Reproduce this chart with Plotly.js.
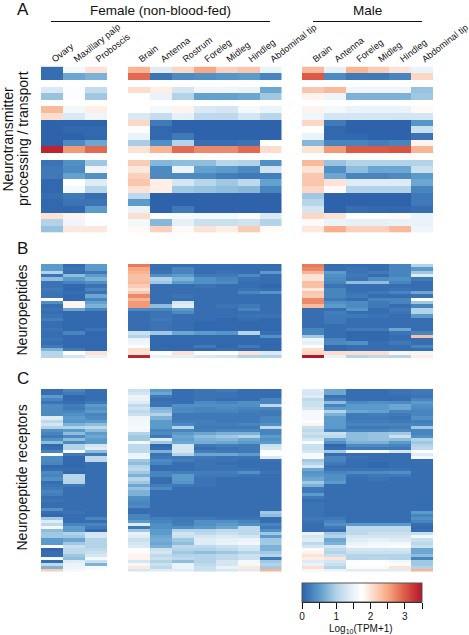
<!DOCTYPE html>
<html><head><meta charset="utf-8">
<script src="https://cdn.plot.ly/plotly-3.0.1.min.js"></script>
<style>html,body{margin:0;padding:0;background:#fff}#c{width:469px;height:635px}</style>
</head><body><div id="c"></div>
<script>
var labelsF1=["Ovary","Maxillary palp","Proboscis"];
var labelsF2=["Brain","Antenna","Rostrum","Foreleg","Midleg","Hindleg","Abdominal tip"];
var labelsM=["Brain","Antenna","Foreleg","Midleg","Hindleg","Abdominal tip"];
var barTicks=[0,.5,1,1.5,2,2.5,3,3.5];
var barLabels=[0,1,2,3];

// Panel A, row by row (null rows are the gaps between gene groups)
var A_F1=[[.1,1.6,2.0],[.1,.6,.7],[null,null,null],[1.35,1.7,1.15],[.85,1.7,.9],[null,null,null],
[2.35,1.6,1.9],[2.05,1.35,1.55],[0,0,0],[0,.05,.05],[0,0,.05],[0,.35,.6],[3.4,2.6,2.9],[null,null,null],
[.15,.4,.9],[.2,.35,1.55],[.2,.55,.4],[.05,1.75,1.4],[.05,1.6,1.05],[.1,.2,.1],[.05,.15,.15],[.05,.05,.5],
[2.0,1.85,1.75],[1.0,1.55,1.7],[.85,1.95,1.95]];
var A_F2=[[2.4,1.4,2.1,2.5,2.15,2.25,1.5],[2.9,.15,.35,.4,.45,.5,.3],[null,null,null,null,null,null,null],
[2.05,1.9,1.3,1.55,1.55,1.5,.6],[1.75,1.5,1.0,.55,.55,.6,.9],[null,null,null,null,null,null,null],
[1.75,1.6,1.85,1.35,1.3,1.6,1.5],[1.35,1.15,1.45,1.1,1.1,1.3,1.05],[2.1,.2,0,0,0,0,0],[1.7,.05,0,0,0,0,0],
[1.5,.05,.2,0,0,0,0],[.95,.4,1.0,.1,.1,.15,1.75],[2.0,2.4,2.9,2.7,2.7,2.9,2.05],[null,null,null,null,null,null,null],
[2.2,.75,.8,.8,1.05,1.0,.4],[1.95,.35,1.5,.55,.5,.35,1.25],[2.15,.35,.35,.35,.25,.2,.25],[2.25,1.9,1.3,1.05,.9,1.1,.55],
[2.0,1.9,.9,.85,.8,.75,.3],[1.1,0,0,0,0,0,0],[.5,0,0,0,0,0,0],[1.5,0,.2,0,0,0,0],
[2.05,1.7,1.65,1.6,1.6,1.7,1.35],[1.6,.75,1.45,1.2,1.2,1.25,1.0],[1.8,2.15,1.8,2.0,1.9,2.2,1.8]];
var A_M=[[2.35,1.45,2.4,2.2,2.0,1.5],[3.0,.35,.2,.2,.3,2.1],[null,null,null,null,null,null],
[2.25,2.35,1.55,1.55,1.55,.85],[1.85,1.55,.7,.7,.7,.9],[null,null,null,null,null,null],
[1.85,1.6,1.5,1.5,1.5,1.8],[1.55,1.3,1.3,1.3,1.3,1.3],[2.1,.2,0,0,0,.45],[1.75,.05,0,0,0,1.2],
[1.5,.05,.05,0,0,.15],[.75,.3,.3,.25,.3,1.85],[2.0,2.6,3.0,3.0,3.05,2.4],[null,null,null,null,null,null],
[2.35,.85,1.0,1.0,1.0,1.0],[2.0,.4,.8,.6,.6,1.2],[2.25,.6,.3,.3,.35,.5],[2.25,2.0,1.4,1.4,1.4,.6],
[2.1,1.8,1.0,1.0,1.0,.3],[.9,0,0,0,0,.2],[1.05,0,0,0,0,.2],[1.3,0,.1,.05,.05,.1],
[2.1,2.0,1.75,1.75,1.8,1.5],[1.8,1.5,1.45,1.45,1.5,1.5],[1.95,2.45,2.15,2.15,2.35,1.55]];

// Panel B, column by column (28 rows)
var B_ovary=[.5,.5,1.0,.15,.8,.15,.15,.2,.15,.15, 1.75,.4,.1,.15,.1,.15,.25,.1,.1,.15, .1,.1,.15,.1,.2,.7,1.05,1.05];
var B_palp=[.1,.15,.1,.8,.5,.3,.05,.05,.1,.05, .05,1.85,1.85,.6,.05,.05,.05,.05,.05,.05, .3,.05,.05,.05,.05,.2,1.75,1.3];
var B_prob=[.5,.5,.2,.5,.7,.4,.15,.3,.15,.6, .3,.55,.7,.3,.05,.05,.05,.05,.05,.15, .05,.05,.05,.05,.05,.05,2.0,1.5];
var B_Fbrain=[2.8,2.5,2.4,2.3,2.3,2.35,2.2,2.0,2.25,2.7, 2.4,2.6,2.6,.35,.1,.1,.1,.1,.1,.1, 1.2,1.0,1.5,1.55,1.7,2.05,2.0,3.4];
var B_Fant=[.1,.1,.15,.4,1.0,.9,.1,.1,.1,.1, .1,.1,.8,.3,.15,.15,.2,.15,.15,.15, .9,.05,.05,.05,.05,.05,1.75,1.5];
var B_Frost=[.1,.3,.3,.5,.7,.5,.1,.1,.1,.15, .1,1.3,1.4,.5,.35,.1,.1,.1,.1,.1, .6,.05,.05,.05,.05,.05,2.0,1.45];
var B_Ffore=[.1,.1,.1,.2,.4,.4,.15,.1,.1,.1, .1,.1,.1,.1,.1,.1,.1,.05,.05,.05, .5,.05,.05,.05,.2,.05,1.7,1.35];
var B_Fmid=[.1,.1,.15,.2,.3,.35,.1,.1,.1,.1, .1,.1,.15,.1,.1,.1,.05,.05,.05,.05, .45,.05,.05,.05,.05,.1,1.7,1.3];
var B_Fhind=[.1,.1,.1,.35,.15,.1,.1,.15,.3,.1, .1,.1,.2,.3,.1,.15,.1,.05,.05,.05, 1.0,.05,.05,.05,.2,.05,2.0,1.0];
var B_Ftip=[.1,.1,.5,.1,.1,.1,.05,.1,.45,.1, .1,.1,.1,.1,.1,.15,.05,.05,.05,.05, .1,.4,.05,.05,.05,.05,1.35,1.0];
var B_Mbrain=[2.8,2.7,2.4,2.0,2.0,2.3,2.3,1.95,2.25,2.2, 2.7,2.7,2.35,.1,.1,.1,.1,.1,.1,.3, .3,.9,1.55,1.45,1.7,2.05,2.1,3.5];
var B_Mant=[.1,.1,.5,.4,.35,.3,.15,.3,.3,.3, .2,.4,.5,.1,.25,.2,.2,.2,.1,.1, .1,.1,.3,.35,.05,.05,2.05,1.5];
var B_Mfore=[.1,.15,.15,.2,.15,.8,.1,.1,.15,.2, .1,.35,.35,.45,.1,.2,.1,.1,.1,.2, .05,.05,.05,.4,.1,.1,2.05,1.0];
var B_Mmid=[.1,.1,.2,.1,.35,.8,.1,.1,.2,.1, .3,.2,.2,.1,.1,.15,.1,.1,.1,.2, .05,.05,.05,.1,.1,.1,2.05,1.1];
var B_Mhind=[.3,.3,.3,.3,.4,.3,.1,.15,.3,.1, .3,.3,.1,.2,.15,.1,.1,.1,.1,.6, .15,.1,.1,.2,.1,.1,1.85,1.05];
var B_Mtip=[1.0,.5,.9,1.4,.2,.1,.1,.1,.6,.15, 1.75,.9,.3,1.0,1.0,.5,.1,.1,.1,.1, .3,2.3,.1,.1,.3,.1,1.6,1.9];

// Panel C, column by column (60 rows)
var C_ovary=[.1,.1,.5,.3,.15,.35,.35,.35,.35,1.4, 1.1,1.3,1.0,.4,.3,.2,.4,.8,.05,.1, .3,1.75,.35,.35,.3,.05,.1,.35,.3,.4, .1,.15,.2,.3,.25,.1,.15,.1,.1,.4, .1,.05,.9,1.4,1.1,1.6,.8,.9,.9,.5, .5,1.75,.05,.1,.1,1.6,.1,1.1,.7,2.2];
var C_palp=[.3,.2,.05,.05,.1,.25,.2,.3,.4,.5, .45,.7,1.0,.5,.8,.35,.8,.35,1.0,1.0, 1.65,.2,.05,.05,.05,.05,.1,.05,1.05,1.05, 1.0,.2,.1,.1,.1,.1,.1,.1,.1,.1, .15,.1,.1,.1,.3,.5,.5,1.0,.9,.6, .9,1.2,1.1,1.1,.9,.8,1.4,1.5,1.55,1.6];
var C_prob=[.1,.1,.1,.1,.2,.5,.4,.5,.3,.35, .5,.8,1.1,.8,.5,.6,.5,.5,1.3,1.4, .8,.2,1.1,1.1,.1,.1,.1,.1,.1,.1, .1,.1,.1,.1,.1,.1,.1,.1,.1,.1, .1,.1,.3,.1,.3,.2,.05,1.3,1.3,1.0, 1.0,1.0,1.1,1.2,1.3,1.6,1.2,.7,1.65,1.7];
var C_Fbrain=[1.2,1.3,1.5,1.5,1.4,1.1,1.25,1.1,1.2,1.55, 1.6,1.6,1.65,1.6,1.0,.9,.9,1.6,1.1,1.1, 1.1,1.5,1.55,.9,.8,1.0,1.1,.9,.7,1.05, .9,.6,.85,.7,.7,.4,.35,.3,.35,.1, .1,.3,.3,.5,1.4,.2,.9,1.5,1.4,1.2, 1.3,1.35,1.7,1.8,1.85,1.85,1.3,1.6,1.95,1.3];
var C_Fant=[.5,.6,.2,.1,.15,.15,.7,.8,1.0,.7, .5,.5,.5,.3,.35,.2,1.4,.9,.05,.1, .7,.15,.2,.35,.3,.1,.1,.3,.3,.1, .1,.25,.35,.1,.1,.1,.1,.1,.1,.1, .1,.1,.25,.3,.4,.4,.5,.5,.6,.65, .6,.7,1.2,1.3,1.1,1.2,1.0,1.2,1.1,1.4];
var C_Frost=[.1,.1,.1,.1,.1,.4,.35,.35,.2,.2, .25,.35,1.0,.3,.5,.6,.55,.6,1.3,1.3, 1.3,1.0,.2,.25,.1,.1,.1,.25,.5,.5, .45,.2,.1,.1,.1,.1,.1,.1,.1,.1, .1,.1,.2,.2,.25,.4,1.0,1.3,1.2,.9, .8,1.1,1.0,.9,1.0,1.1,.8,1.5,1.5,1.4];
var C_Ffore=[.15,.15,.15,.15,.35,.4,.3,.3,.2,.2, .25,.25,.2,.25,.6,.8,.7,.65,.2,.1, .25,.6,.2,.15,.15,.15,.15,.25,.2,.15, .15,.15,.1,.1,.1,.1,.1,.1,.1,.1, .1,.1,.2,.4,.4,.5,1.0,1.1,1.3,1.4, 1.4,1.1,1.0,.8,1.0,1.0,1.0,1.1,1.2,1.2];
var C_Fmid=[.2,.15,.15,.1,.3,.4,.35,.3,.2,.2, .2,.25,.2,.3,.7,.9,.75,.6,.25,.15, .2,.6,.15,.15,.1,.15,.15,.25,.2,.1, .1,.1,.1,.1,.1,.1,.1,.1,.1,.1, .1,.1,.15,.4,.5,.6,1.1,1.2,1.35,1.45, 1.5,1.2,1.1,.9,1.1,1.1,1.3,1.3,1.5,1.3];
var C_Fhind=[.1,.1,.1,.1,.4,.4,.3,.25,.2,.2, .2,.3,.2,.3,.7,1.0,.6,.5,.2,.2, .2,.5,.15,.1,.1,.1,.15,.4,.15,.1, .1,.1,.1,.1,.1,.1,.1,.1,.1,.1, .1,.1,.15,.3,.4,1.1,1.1,1.1,1.3,1.5, 1.6,1.3,1.25,1.0,1.2,1.2,1.6,1.6,1.95,1.4];
var C_Ftip=[.1,.1,.1,.3,.3,1.1,.3,.2,.2,.3, .3,.4,1.1,.3,.3,.5,.4,.5,1.2,1.3, 1.7,1.75,1.35,.15,.1,.1,.1,.15,.1,.1, .1,.1,.1,.1,.1,.1,.1,.1,.1,.1, .9,.8,.1,.1,.3,.2,.4,.9,.5,.9, .9,.7,.7,.9,1.0,.2,.9,1.0,.9,2.4];
var C_Mbrain=[1.35,1.3,1.4,1.1,1.2,1.2,1.3,1.65,1.65,1.65, 1.7,1.85,1.2,1.1,1.2,1.1,1.3,1.65,1.2,1.2, 1.3,1.65,1.65,.9,1.0,1.3,.6,.45,.5,.6, .9,.7,.2,.2,.5,.2,.1,.15,.15,.15, .15,.15,.2,.15,.1,.1,.1,1.5,1.3,1.4, 1.1,1.3,1.8,1.85,2.0,1.9,1.4,1.5,2.05,1.6];
var C_Mant=[.6,.6,.15,.25,.8,.3,.5,1.0,.7,.5, .5,.5,.5,.3,1.2,1.1,.6,.4,.05,.1, .9,.1,.3,.3,.2,.1,.15,.3,.4,.4, .5,.1,.1,.1,.1,.1,.1,.1,.1,.1, .1,.1,.2,.3,.4,.2,.1,.9,1.0,.6, .7,1.3,1.1,1.0,1.2,2.0,1.3,1.2,1.0,1.5];
var C_Mfore=[.1,.1,.1,.1,.35,.5,.5,.6,.2,.2, .25,.3,.2,.3,.8,.8,.8,.7,.35,.2, 1.65,.1,.15,.1,.1,.1,.15,.35,.15,.1, .1,.1,.1,.1,.1,.1,.1,.1,.1,.1, .1,.1,.1,.1,.5,1.1,1.1,1.1,1.3,1.4, 1.5,1.6,1.3,1.2,1.0,1.0,1.7,1.75,1.8,1.4];
var C_Mmid=[.1,.1,.1,.1,.4,.5,.5,.55,.25,.2, .25,.3,.2,.3,.85,.85,.85,.7,.35,.2, 1.65,.1,.1,.1,.05,.05,.15,.35,.2,.15, .1,.1,.1,.1,.1,.1,.1,.1,.1,.1, .1,.1,.1,.1,.5,1.1,1.1,1.2,1.3,1.45, 1.6,1.65,1.3,1.2,1.0,1.05,1.7,1.75,1.8,1.4];
var C_Mhind=[.15,.15,.1,.1,.35,.6,.6,.3,.2,.15, .2,.3,.25,.35,.9,1.2,.8,.5,.3,.2, 1.3,.1,.1,.1,.1,.1,.15,.4,.2,.1, .1,.1,.1,.1,.1,.1,.1,.1,.1,.1, .1,.1,.1,.1,.5,1.1,1.1,1.2,1.3,1.4, 1.6,1.7,1.3,1.2,1.0,1.0,1.6,1.7,2.0,1.4];
var C_Mtip=[.2,.2,.15,.3,.5,.4,.35,.3,.3,.4, .25,.3,.9,.3,.3,.4,1.0,.9,1.0,1.1, 1.75,1.4,1.6,.1,.1,.1,.1,.1,.1,.1, .1,.1,.1,.1,.1,.1,.1,.1,.1,.1, .5,.3,.4,.3,.1,.05,.1,1.2,1.6,1.2, 1.1,1.2,.6,.6,.8,.3,.9,.9,1.0,2.4];

var colorStops=[[0,'#2e62aa'],[0.143,'#5a9bcb'],[0.286,'#b3d3e8'],[0.43,'#ebf3f9'],[0.5,'#ffffff'],[0.571,'#fde3d6'],[0.714,'#f8a984'],[0.857,'#dc5a45'],[1,'#b2182b']];

var W=469,H=635;
function px(v){return v/W;}
function py(v){return 1-v/H;}
function rows(cols){return cols[0].map(function(_,i){return cols.map(function(c){return c[i];});});}

var groups=[
 {xa:'x',labels:labelsF1,left:41,right:107,A:A_F1,B:rows([B_ovary,B_palp,B_prob]),C:rows([C_ovary,C_palp,C_prob])},
 {xa:'x2',labels:labelsF2,left:128,right:281.5,A:A_F2,B:rows([B_Fbrain,B_Fant,B_Frost,B_Ffore,B_Fmid,B_Fhind,B_Ftip]),C:rows([C_Fbrain,C_Fant,C_Frost,C_Ffore,C_Fmid,C_Fhind,C_Ftip])},
 {xa:'x3',labels:labelsM,left:302,right:433,A:A_M,B:rows([B_Mbrain,B_Mant,B_Mfore,B_Mmid,B_Mhind,B_Mtip]),C:rows([C_Mbrain,C_Mant,C_Mfore,C_Mmid,C_Mhind,C_Mtip])}
];
var panels=[{key:'A',ya:'y',top:66.6,bot:232.5},{key:'B',ya:'y2',top:264,bot:358},{key:'C',ya:'y3',top:389,bot:571.5}];

var data=[];
var layout={width:W,height:H,margin:{l:0,r:0,t:0,b:0},paper_bgcolor:'#fff',plot_bgcolor:'rgba(0,0,0,0)',showlegend:false,
 font:{family:'Liberation Sans, Arial, sans-serif',color:'#111'},
 coloraxis:{cmin:0,cmax:3.5,colorscale:colorStops,colorbar:{
   orientation:'h',x:px(302),xanchor:'left',y:py(583),yanchor:'top',lenmode:'pixels',len:120,thicknessmode:'pixels',thickness:18.5,
   xpad:0,ypad:0,outlinecolor:'#555',outlinewidth:1,borderwidth:0,
   tickmode:'array',tickvals:barLabels,
   ticks:'outside',ticklen:6,tickwidth:1,tickcolor:'#111',tickfont:{size:10,color:'#111'}}},
 annotations:[],shapes:[]};

groups.forEach(function(g,i){
  var name='xaxis'+(i?i+1:'');
  layout[name]={domain:[px(g.left),px(g.right)],range:[-.5,g.labels.length-.5],side:'top',anchor:'y',
    tickmode:'array',tickvals:g.labels.map(function(_,k){return k;}),ticktext:g.labels,tickangle:-38,ticklabeloverflow:'allow',
    ticks:'',ticklen:0,showgrid:false,zeroline:false,showline:false,tickfont:{size:9.2,color:'#111'},automargin:false,fixedrange:true};
  panels.forEach(function(p){
    var z=g[p.key];
    data.push({type:'heatmap',z:z,x:g.labels.map(function(_,k){return k;}),y:z.map(function(_,k){return k;}),xaxis:g.xa,yaxis:p.ya,coloraxis:'coloraxis',hoverongaps:false});
  });
});
panels.forEach(function(p,i){
  var n=groups[0][p.key].length;
  layout['yaxis'+(i?i+1:'')]={domain:[py(p.bot),py(p.top)],range:[n-.5,-.5],anchor:'x',visible:false,showgrid:false,zeroline:false,fixedrange:true};
});

// half-unit ticks under the colour bar, on an empty axis with the same scale
data.push({type:'scatter',x:[],y:[],xaxis:'x4',yaxis:'y4',hoverinfo:'skip'});
layout.xaxis4={domain:[px(302),px(422)],range:[0,3.5],anchor:'y4',side:'bottom',tickmode:'array',tickvals:barTicks,showticklabels:false,
  ticks:'outside',ticklen:6,tickwidth:1,tickcolor:'#111',showline:true,linecolor:'#111',linewidth:1,showgrid:false,zeroline:false,fixedrange:true};
layout.yaxis4={domain:[py(601.5),py(583)],anchor:'x4',visible:false,showgrid:false,zeroline:false,fixedrange:true};

function note(text,x,y,size,rot){
  layout.annotations.push({text:text,xref:'paper',yref:'paper',x:px(x),y:py(y),xanchor:'center',yanchor:'middle',showarrow:false,textangle:rot||0,font:{size:size,color:'#111'}});
}
note('A',22.5,9,17);note('B',22.5,248,17);note('C',22.5,378,17);
note('Female (non-blood-fed)',160,10.5,13.5);
note('Male',367,10.5,13.5);
note('Neurotransmitter',7.5,139,14,-90);
note('processing / transport',23,139,14,-90);
note('Neuropeptides',21.5,310,14,-90);
note('Neuropeptide receptors',21.5,478,14,-90);
note('Log<sub>10</sub>(TPM+1)',361,629,10);
[[51,270],[313,422]].forEach(function(s){
  layout.shapes.push({type:'line',xref:'paper',yref:'paper',x0:px(s[0]),x1:px(s[1]),y0:py(21.5),y1:py(21.5),line:{color:'#111',width:1}});
});
Plotly.newPlot('c',data,layout,{displayModeBar:false,staticPlot:true});
</script></body></html>
